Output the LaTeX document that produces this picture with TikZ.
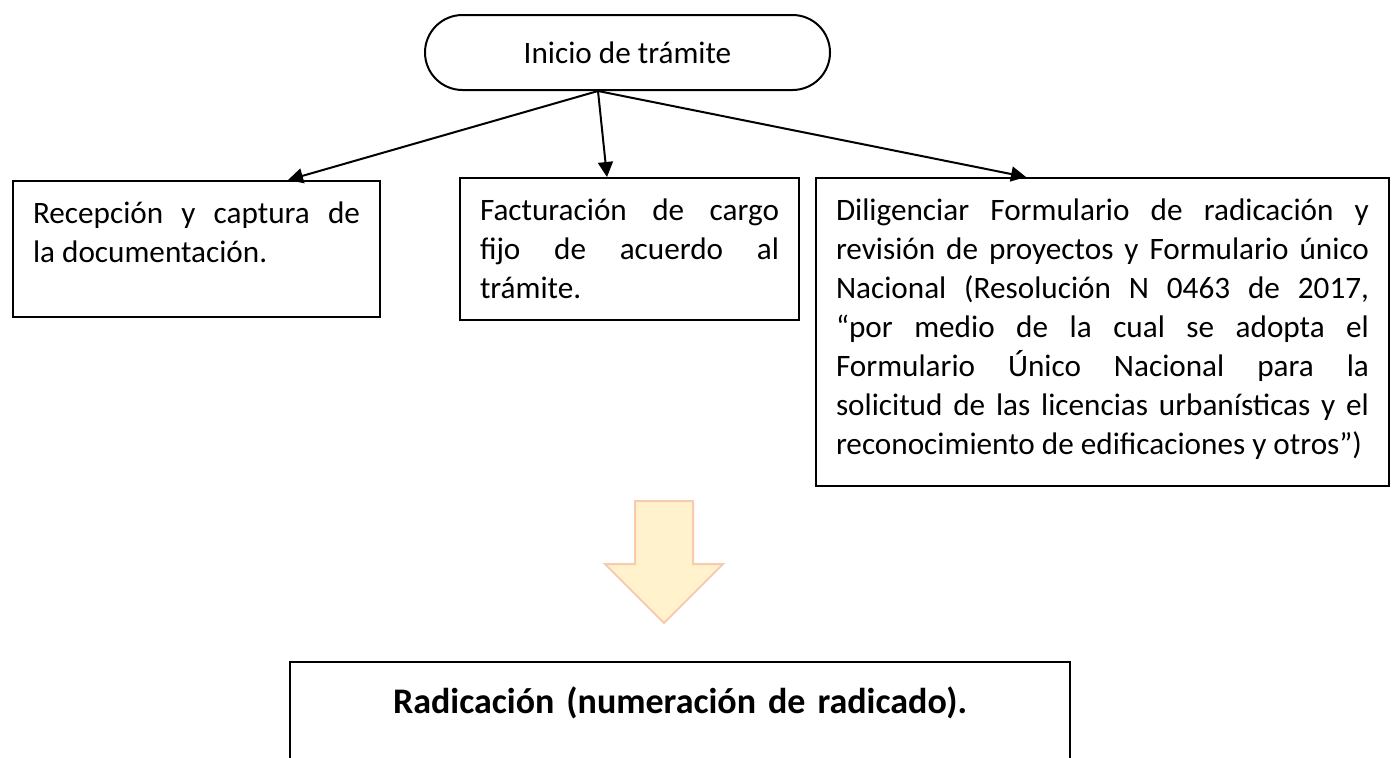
\documentclass[tikz,border=0pt]{standalone}
\usepackage{fontspec}
\setmainfont{Carlito}
\usetikzlibrary{arrows.meta,shapes.misc,positioning}
\definecolor{arrowfill}{HTML}{FFF2CC}
\definecolor{arrowline}{HTML}{F8CBAD}

\begin{document}
\begin{tikzpicture}[x=0.5pt,y=-0.5pt]
            \tikzset{
            rad term/.style={rounded rectangle,draw,line width=1pt,minimum width=202.5pt,minimum height=37.5pt,inner sep=0,font=\fontsize{15.6}{19.5}\selectfont},
            rad box/.style={rectangle,draw,line width=1pt,anchor=north west,align=justify,inner xsep=10pt,inner ysep=10.5pt,font=\fontsize{15.6}{19.5}\selectfont},
            rad edge/.style={-{Triangle[length=7.5pt,width=7.5pt]},line width=1pt}
            }
            \clip (0,0) rectangle (1396,757);
            \node[rad term] (1) at (627.5,52.5) {Inicio de trámite};
            \coordinate (0) at (598,91);
            \node[rad box,text width=163.5pt,text depth=36.3pt] (2) at (12,180)
              {Recepción y captura de\linebreak la documentación.};
            \node[rad box,text width=149.5pt] (3) at (459,177)
              {Facturación de cargo\linebreak fijo de acuerdo al\linebreak trámite.};
            \node[rad box,text width=266.5pt,text depth=122.3pt] (4) at (815,177)
              {Diligenciar Formulario de radicación y\linebreak
               revisión de proyectos y Formulario único\linebreak
               Nacional (Resolución N 0463 de 2017,\linebreak
               “por medio de la cual se adopta el\linebreak
               Formulario Único Nacional para la\linebreak
               solicitud de las licencias urbanísticas y el\linebreak
               reconocimiento de edificaciones y otros”)};
            \node[rad box,anchor=north,align=center,text width=370pt,inner ysep=12pt,text height=13.5pt,text depth=60pt,font=\fontsize{18}{22}\selectfont\bfseries] (5) at (680,661)
              {Radicación (numeración de radicado).};

            \path[rad edge]
            (0) edge ([xshift=45.75pt]2.north)
            (0) edge ([xshift=-11.25pt]3.north)
            (0) edge ([xshift=-38.25pt]4.north)
            ;
            \draw[arrowline,fill=arrowfill,line width=1pt] (635,501) -- (693,501) -- (693,564) -- (723,564)
              -- (664,623) -- (605,564) -- (635,564) -- cycle;
\end{tikzpicture}
\end{document}
